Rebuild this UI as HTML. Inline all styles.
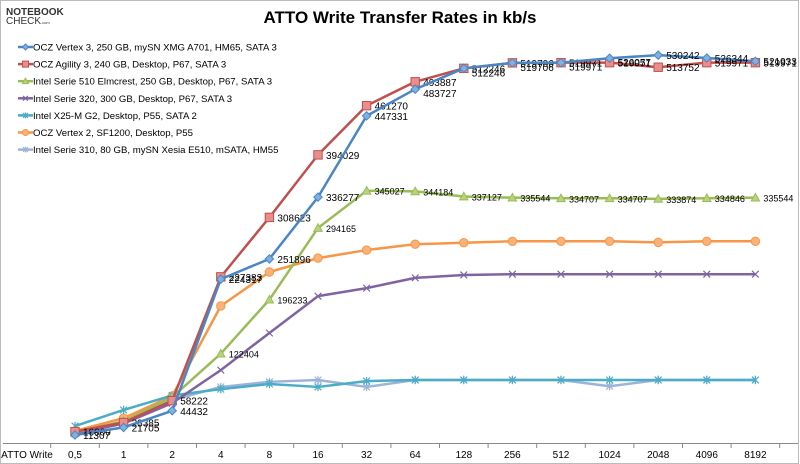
<!DOCTYPE html>
<html><head><meta charset="utf-8"><style>
html,body{margin:0;padding:0;background:#fff;}
body{width:800px;height:464px;overflow:hidden;font-family:"Liberation Sans",sans-serif;}
svg{display:block;}
</style></head><body>
<svg id="chart" width="800" height="464" viewBox="0 0 800 464" xmlns="http://www.w3.org/2000/svg">
<rect x="0.5" y="0.5" width="798" height="463" fill="#fff" stroke="#bbb"/>
<g>
<text x="6" y="15" font-size="10" font-weight="bold" fill="#333">NOTEBOOK</text>
<text x="6" y="24" font-size="10" fill="#333">CHECK<tspan font-size="4">.com</tspan></text>
</g>
<text x="400" y="23" text-anchor="middle" font-size="17" font-weight="bold" fill="#000">ATTO Write Transfer Rates in kb/s</text>
<g id="axis"></g>
<g id="series"></g>
<g id="legend"></g>
</svg>
<script>
const categories = ["ATTO Write","0,5","1","2","4","8","16","32","64","128","256","512","1024","2048","4096","8192"];
const seriesNames = ["OCZ Vertex 3, 250 GB, mySN XMG A701, HM65, SATA 3","OCZ Agility 3, 240 GB, Desktop, P67, SATA 3","Intel Serie 510 Elmcrest, 250 GB, Desktop, P67, SATA 3","Intel Serie 320, 300 GB, Desktop, P67, SATA 3","Intel X25-M G2, Desktop, P55, SATA 2","OCZ Vertex 2, SF1200, Desktop, P55","Intel Serie 310, 80 GB, mySN Xesia E510, mSATA, HM55"];
const vertex3 = [null,11307,21705,44432,224317,251896,336277,447331,483727,512246,519706,519971,526057,530242,526344,521933];
const agility3 = [null,16000,28385,58222,227383,308623,394029,461270,493887,512246,519706,519971,519971,513752,519971,519971];
const intel510 = [null,15000,30000,63000,122404,196233,294165,345027,344184,337127,335544,334707,334707,333874,334846,335544];
const intel320 = [null,13000,27000,55000,100000,150700,201000,212000,226000,230000,231000,231000,231000,231000,231000,231000];
const x25m = [null,23600,45500,65394,74000,81000,77000,85000,86500,86500,86500,86500,86500,86500,86500,86500];
const vertex2 = [null,16800,34388,64600,187600,234000,253000,264000,272000,274000,276000,276000,276000,274500,276000,276000];
const intel310 = [null,14000,28000,59000,77000,84000,86500,77000,86500,86500,86500,86500,78000,86500,86500,86500];
const labeled = [true,true,true,false,false,false,false];

const NS="http://www.w3.org/2000/svg";
function xPos(i){return 26.4+i*48.6;}
function yPos(v){return 443.3-v*0.000732;}
function mk(tag,attrs,parent){const e=document.createElementNS(NS,tag);for(const k in attrs)e.setAttribute(k,attrs[k]);parent.appendChild(e);return e;}
const axis=document.getElementById('axis');
let ln=mk('line',{x1:3,y1:443.5,x2:798,y2:443.5,stroke:'#888','stroke-width':1},axis);


categories.forEach((c,i)=>{
  const t=mk('line',{x1:xPos(i)+24.3,y1:443,x2:xPos(i)+24.3,y2:448,stroke:'#888'},axis);
  
  
  const tx=mk('text',{x:i===0?27:xPos(i),y:458,'text-anchor':'middle','font-size':10,fill:'#000'},axis);
  tx.textContent=c;
  
  
});
const allSeries=[vertex3,agility3,intel510,intel320,x25m,vertex2,intel310];
const colors=["#4a86c4","#c0504d","#9bbb59","#8064a2","#4bacc6","#f79646","#9db3d8"];
const mfill=["#7fb0e0","#e88e8c","#b8d47a","#8064a2","#4bacc6","#f9b27a","#9db3d8"];
const shapes=["diamond","square","triangle","x","star","circle","star"];
function marker(g,s,x,y,col,fill,r){
  let e;
  if(s==="diamond")e=mk('polygon',{points:`${x},${y-r} ${x+r},${y} ${x},${y+r} ${x-r},${y}`,fill:fill,stroke:col},g);
  else if(s==="square")e=mk('rect',{x:x-r,y:y-r,width:2*r,height:2*r,fill:fill,stroke:col},g);
  else if(s==="triangle")e=mk('polygon',{points:`${x},${y-r} ${x+r},${y+r*0.8} ${x-r},${y+r*0.8}`,fill:fill,stroke:col},g);
  else if(s==="circle")e=mk('circle',{cx:x,cy:y,r:r,fill:fill,stroke:col},g);
  else {const q=r*0.8;e=mk('path',{d:`M${x-q} ${y-q}L${x+q} ${y+q}M${x-q} ${y+q}L${x+q} ${y-q}`+(s==="star"?`M${x} ${y-r}V${y+r}`:''),stroke:col,'stroke-width':1.2,fill:'none'},g);}
  
  
}
const sg=document.getElementById('series');
for(let s=allSeries.length-1;s>=0;s--){
  const data=allSeries[s];
  const g=mk('g',{},sg);
  
  
  let d='';
  data.forEach((v,i)=>{if(v==null)return;d+=(d?'L':'M')+xPos(i)+' '+yPos(v);});
  const p=mk('path',{d:d,fill:'none',stroke:colors[s],'stroke-width':2.5,'stroke-linejoin':'round'},g);
  
  
  data.forEach((v,i)=>{if(v==null)return;marker(g,shapes[s],xPos(i),yPos(v),colors[s],mfill[s],4.2);});
  if(labeled[s]){
    data.forEach((v,i)=>{if(v==null)return;
      if(s===2 && i<4)return;
      const t=mk('text',{x:xPos(i)+8,y:yPos(v)+(s===0&&i>=8&&i<=12?8:4),'font-size':s===2?9:10,fill:'#000'},g);
      t.textContent=v;
      
      
    });
  }
}
const lg=document.getElementById('legend');
seriesNames.forEach((n,i)=>{
  const y=47+i*17.1;
  const g=mk('g',{},lg);
  
  
  mk('line',{x1:18,y1:y,x2:33,y2:y,stroke:colors[i],'stroke-width':2.5},g);
  marker(g,shapes[i],25.5,y,colors[i],mfill[i],3);
  const t=mk('text',{x:33,y:y+3.5,'font-size':9.6,fill:'#000'},g);
  t.textContent=n;
});
</script>
</body></html>
